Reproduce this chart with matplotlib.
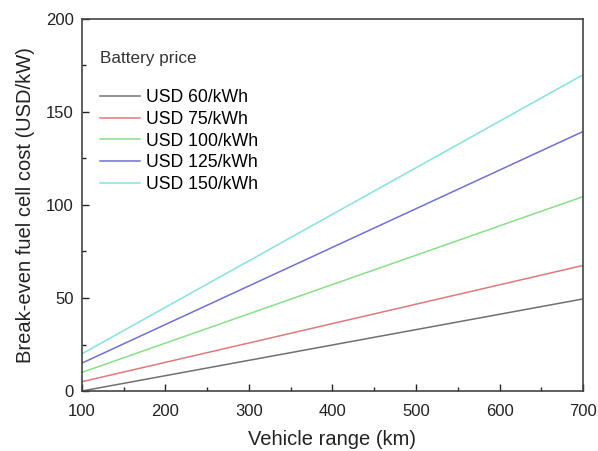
import matplotlib
matplotlib.use("Agg")
from matplotlib import pyplot as plt
from matplotlib.ticker import MultipleLocator

plt.rcParams["font.family"] = ["Liberation Sans", "DejaVu Sans"]

# vehicle range endpoints (km)
vehicle_range = [100, 700]

# break-even fuel cell cost (USD/kW) at each end of the range
cost_60 = [0, 49.5]
cost_75 = [5, 67.5]
cost_100 = [10, 104.5]
cost_125 = [15, 139.5]
cost_150 = [20, 170]

labels = ["USD 60/kWh", "USD 75/kWh", "USD 100/kWh", "USD 125/kWh", "USD 150/kWh"]
colors = ["#707070", "#e07a7a", "#88e088", "#7070d0", "#88e0e0"]

fig = plt.figure(figsize=(5.98, 4.51), dpi=100)
ax = fig.add_axes([0.137, 0.133, 0.838, 0.825])

for y, lab, c in zip([cost_60, cost_75, cost_100, cost_125, cost_150], labels, colors):
    ax.plot(vehicle_range, y, color=c, lw=1.1, label=lab)

ax.set_xlim(100, 700)
ax.set_ylim(0, 200)
ax.xaxis.set_major_locator(MultipleLocator(100))
ax.xaxis.set_minor_locator(MultipleLocator(50))
ax.yaxis.set_major_locator(MultipleLocator(50))
ax.yaxis.set_minor_locator(MultipleLocator(25))
ax.tick_params(which="both", direction="in", labelsize=12, colors="#222222")
ax.tick_params(which="major", length=5, width=1)
ax.tick_params(which="minor", length=3, width=1)
ax.tick_params(axis="x", which="major", pad=9.5)
ax.tick_params(axis="y", which="major", pad=6)

for s in ax.spines.values():
    s.set_color("#444444")
    s.set_linewidth(1.2)

ax.set_xlabel("Vehicle range (km)", fontsize=14.5, color="#222222", labelpad=8)
ax.set_ylabel("Break-even fuel cell cost (USD/kW)", fontsize=14.5, color="#222222",
              labelpad=8)

# legend heading
fig.text(0.168, 1 - 58 / 451, "Battery price", fontsize=12.3,
         color="#333333", va="center", ha="left")
ax.legend(loc="upper left", bbox_to_anchor=(0.167, 1 - 89 / 451),
          bbox_transform=fig.transFigure, frameon=False, borderpad=0,
          borderaxespad=0, fontsize=12.7, handlelength=2.3, handletextpad=0.3,
          labelspacing=0.27)

plt.savefig("out.png", dpi=100)
